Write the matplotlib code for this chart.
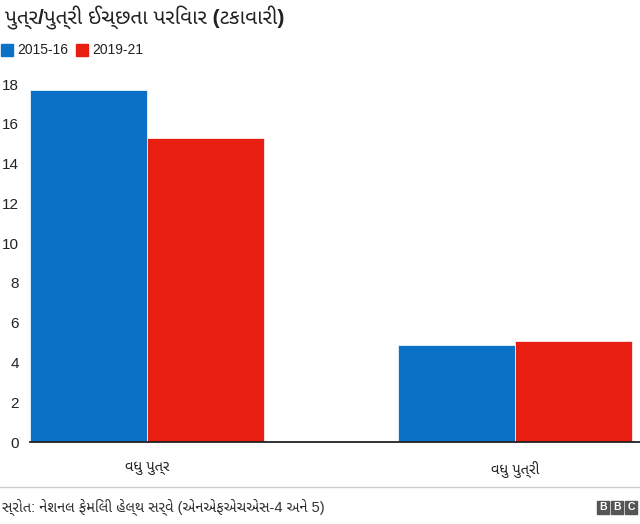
import matplotlib
matplotlib.use("Agg")
import matplotlib.pyplot as plt
from matplotlib.patches import Rectangle
import numpy as np

title = "પુત્ર/પુત્રી ઈચ્છતા પરિવાર (ટકાવારી)"
categories = ["વધુ પુત્ર", "વધુ પુત્રી"]
series_names = ["2015-16", "2019-21"]
values_2015 = [17.7, 4.9]
values_2019 = [15.3, 5.1]
yticks = [0, 2, 4, 6, 8, 10, 12, 14, 16, 18]
source = "સ્રોત: નેશનલ ફેમિલી હેલ્થ સર્વે (એનએફએચએસ-4 અને 5)"

blue = "#0a71c6"
red = "#e81e10"

plt.rcParams['font.family'] = ['Liberation Sans', 'Noto Sans Gujarati', 'DejaVu Sans']

fig = plt.figure(figsize=(6.4, 5.24), dpi=100)
ax = fig.add_axes([0.047, 1 - 442/524, 0.953, (442 - 84)/524])

x = np.arange(len(categories))
w = 0.318
ax.bar(x - w/2, values_2015, w, color=blue, label=series_names[0], edgecolor='white', linewidth=0.5)
ax.bar(x + w/2, values_2019, w, color=red, label=series_names[1], edgecolor='white', linewidth=0.5)

ax.set_xlim(-0.318, 1.34)
ax.set_ylim(0, 18)
ax.set_yticks(yticks)
ax.set_yticklabels([str(t) for t in yticks], fontsize=11, color='#222222')
ax.tick_params(axis='y', length=0, pad=8)
ax.set_xticks(x)
ax.set_xticklabels(categories, fontsize=10.5, color='#222222')
ax.tick_params(axis='x', length=0, pad=14)
for s in ['top', 'right', 'left']:
    ax.spines[s].set_visible(False)
ax.spines['bottom'].set_color('#222222')
ax.spines['bottom'].set_linewidth(1.3)

fig.text(0.008, 1 - 18/524, title, fontsize=15, fontweight='bold', va='center', ha='left', color='#222222')

# legend
fig.patches.append(Rectangle((1/640, 1 - 56/524), 12/640, 12/524, transform=fig.transFigure, color=blue))
fig.text(17/640, 1 - 50/524, series_names[0], fontsize=10, va='center', color='#222222')
fig.patches.append(Rectangle((76/640, 1 - 56/524), 12/640, 12/524, transform=fig.transFigure, color=red))
fig.text(92/640, 1 - 50/524, series_names[1], fontsize=10, va='center', color='#222222')

# footer
fig.add_artist(plt.Line2D([0, 1], [1 - 487/524, 1 - 487/524], transform=fig.transFigure, color='#cccccc', linewidth=1))
fig.text(0.003, 1 - 507/524, source, fontsize=10.5, va='center', ha='left', color='#333333')
for i, ch in enumerate("BBC"):
    x0 = (597 + i * 14) / 640
    fig.patches.append(Rectangle((x0, 1 - 514/524), 12/640, 13/524, transform=fig.transFigure, color='#555555'))
    fig.text(x0 + 6/640, 1 - 507.5/524, ch, fontsize=7.5, fontweight='bold', color='white', ha='center', va='center')

fig.savefig("out.png", dpi=100)
